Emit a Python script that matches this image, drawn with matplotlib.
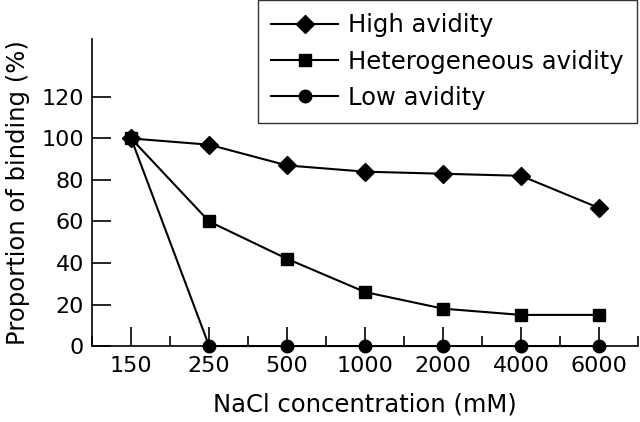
import numpy as np
import matplotlib
matplotlib.use("Agg")
from matplotlib import pyplot as plt
from matplotlib.ticker import FixedLocator

plt.rcParams["font.family"] = ["DejaVu Sans"]

nacl = ["150", "250", "500", "1000", "2000", "4000", "6000"]
high = [100, 97, 87, 84, 83, 82, 66.5]
hetero = [100, 60, 42, 26, 18, 15, 15]
low = [100, 0, 0, 0, 0, 0, 0]

fig = plt.figure(figsize=(6.4, 4.22), dpi=100)
ax = fig.add_axes([0.144, 0.180, 0.853, 0.728])

x = np.arange(len(nacl))
ax.plot(x, high, color="black", lw=1.5, marker="D", markersize=9.5, label="High avidity", clip_on=False)
ax.plot(x, hetero, color="black", lw=1.5, marker="s", markersize=9, label="Heterogeneous avidity", clip_on=False)
ax.plot(x, low, color="black", lw=1.5, marker="o", markersize=9, label="Low avidity", clip_on=False, zorder=3)

ax.set_xlim(-0.5, 6.5)
ax.set_ylim(0, 148)
ax.set_xticks(x)
ax.set_xticklabels(nacl)
ax.xaxis.set_minor_locator(FixedLocator(np.arange(-0.5, 7, 1.0)))
ax.set_yticks(np.arange(0, 121, 20))

for s in ["top", "right"]:
    ax.spines[s].set_visible(False)
for s in ["left", "bottom"]:
    ax.spines[s].set_linewidth(1.2)

ax.tick_params(axis="x", which="major", direction="in", length=14, width=1.2, labelsize=16, pad=7)
ax.tick_params(axis="x", which="minor", direction="in", length=7, width=1.2)
ax.tick_params(axis="y", which="major", direction="in", length=14, width=1.2, labelsize=16, pad=6)

ax.set_xlabel("NaCl concentration (mM)", fontsize=17.5, labelpad=12)
ax.set_ylabel("Proportion of binding (%)", fontsize=17.5, labelpad=8)

leg = fig.legend(loc="upper right", bbox_to_anchor=(0.995, 1.0), fontsize=17.5,
                 frameon=True, fancybox=False, edgecolor="black", handlelength=2.75,
                 borderpad=0.55, labelspacing=0.5, handletextpad=0.4, borderaxespad=0)
leg.get_frame().set_linewidth(1.0)

fig.savefig("out.png", dpi=100)
